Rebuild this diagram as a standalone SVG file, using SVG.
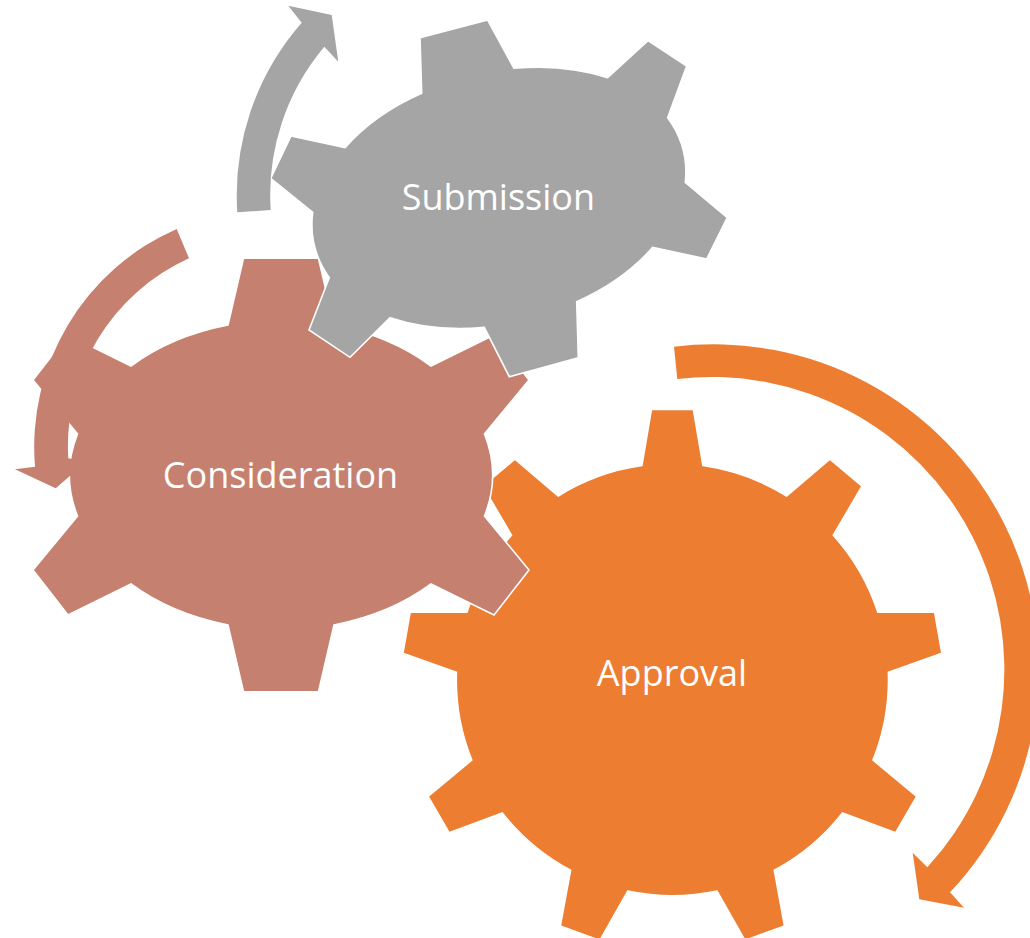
<svg xmlns="http://www.w3.org/2000/svg" width="1030" height="938" viewBox="0 0 1030 938">
<style>
.gear{stroke:#FFFFFF;stroke-width:1.6;stroke-linejoin:miter}
.orange{fill:#ED7D31}
.brown{fill:#C5806F}
.gray{fill:#A5A5A5}
.lbl{font-family:"Open Sans","Noto Sans",sans-serif;font-size:36px;fill:#FFFFFF;text-anchor:middle}
</style>
<rect width="1030" height="938" fill="#FFFFFF"/>
<g id="approval">
<path class="gear orange" d="M641.9,465.5 L651.4,409.5 L693.4,409.5 L702.9,465.5 A216 216 0 0 1 786.6,496.0 L829.9,459.2 L862.0,486.2 L833.3,535.2 A216 216 0 0 1 877.9,612.3 L934.6,612.0 L941.9,653.3 L888.4,672.4 A216 216 0 0 1 873.0,760.1 L916.7,796.3 L895.7,832.7 L842.5,812.9 A216 216 0 0 1 774.3,870.2 L784.5,926.0 L745.0,940.4 L716.9,891.0 A216 216 0 0 1 627.9,891.0 L599.8,940.4 L560.3,926.0 L570.6,870.2 A216 216 0 0 1 502.3,812.9 L449.1,832.7 L428.1,796.3 L471.8,760.1 A216 216 0 0 1 456.4,672.4 L402.9,653.3 L410.2,612.0 L466.9,612.3 A216 216 0 0 1 511.5,535.2 L482.8,486.2 L514.9,459.2 L558.2,496.0 A216 216 0 0 1 641.9,465.5 Z"/>
<text class="lbl" x="672" y="686">Approval</text>
</g>
<g id="consideration">
<path class="gear brown" d="M228,325 L243.5,258.3 L318.5,258.3 L334,325 A211 150 0 0 1 431,366 L494,335 L529,380 L484.5,434 A211 150 0 0 1 484.5,516 L529,570 L494,615 L431,584 A211 150 0 0 1 334,625 L318.5,691.7 L243.5,691.7 L228,625 A211 150 0 0 1 131,584 L68,615 L33,570 L77.5,516 A211 150 0 0 1 77.5,434 L33,380 L68,335 L131,366 A211 150 0 0 1 228,325 Z"/>
<text class="lbl" x="280.5" y="488">Consideration</text>
</g>
<g id="submission">
<path class="gear gray" d="M421.7,93.3 L420,37.7 L487.7,20 L514,68.3 A190 130 -13 0 1 607.7,77.7 L648,40.7 L686.7,66 L667.7,117.7 A190 130 -13 0 1 685.3,182.3 L727.3,217.7 L706.7,259 L652.7,247.3 A190 130 -13 0 1 576.7,301.7 L578.3,357.7 L509.3,376.7 L484.3,327.3 A190 130 -13 0 1 390,317.7 L350,357.3 L309,330 L329.3,277.7 A190 130 -13 0 1 312.7,212.3 L270.7,178.3 L291,136 L345,147.7 A190 130 -13 0 1 421.7,93.3 Z"/>
<text class="lbl" x="498.4" y="210">Submission</text>
</g>
<g id="connectors">
<path id="arrow-submission" class="gray" d="M237.3,212.3 A262 262 0 0 1 301.7,22.7 L288.3,5.7 L331.7,15 L338.3,61.7 L324.3,46.7 A230 230 0 0 0 270.7,210 Z"/>
<path id="arrow-consideration" class="brown" d="M176.7,229 A238 238 0 0 0 35,466.7 L15,469.3 L55.7,488.3 L86.6,461.6 L68.3,458.3 A206 206 0 0 1 189,258.3 Z"/>
<path id="arrow-approval" class="orange" d="M674,346.7 A325 325 0 0 1 950,892.3 L964,907.7 L919.3,899.3 L912.7,852.7 L927.3,867.3 A292.5 292.5 0 0 0 677.3,379 Z"/>
</g>
</svg>
